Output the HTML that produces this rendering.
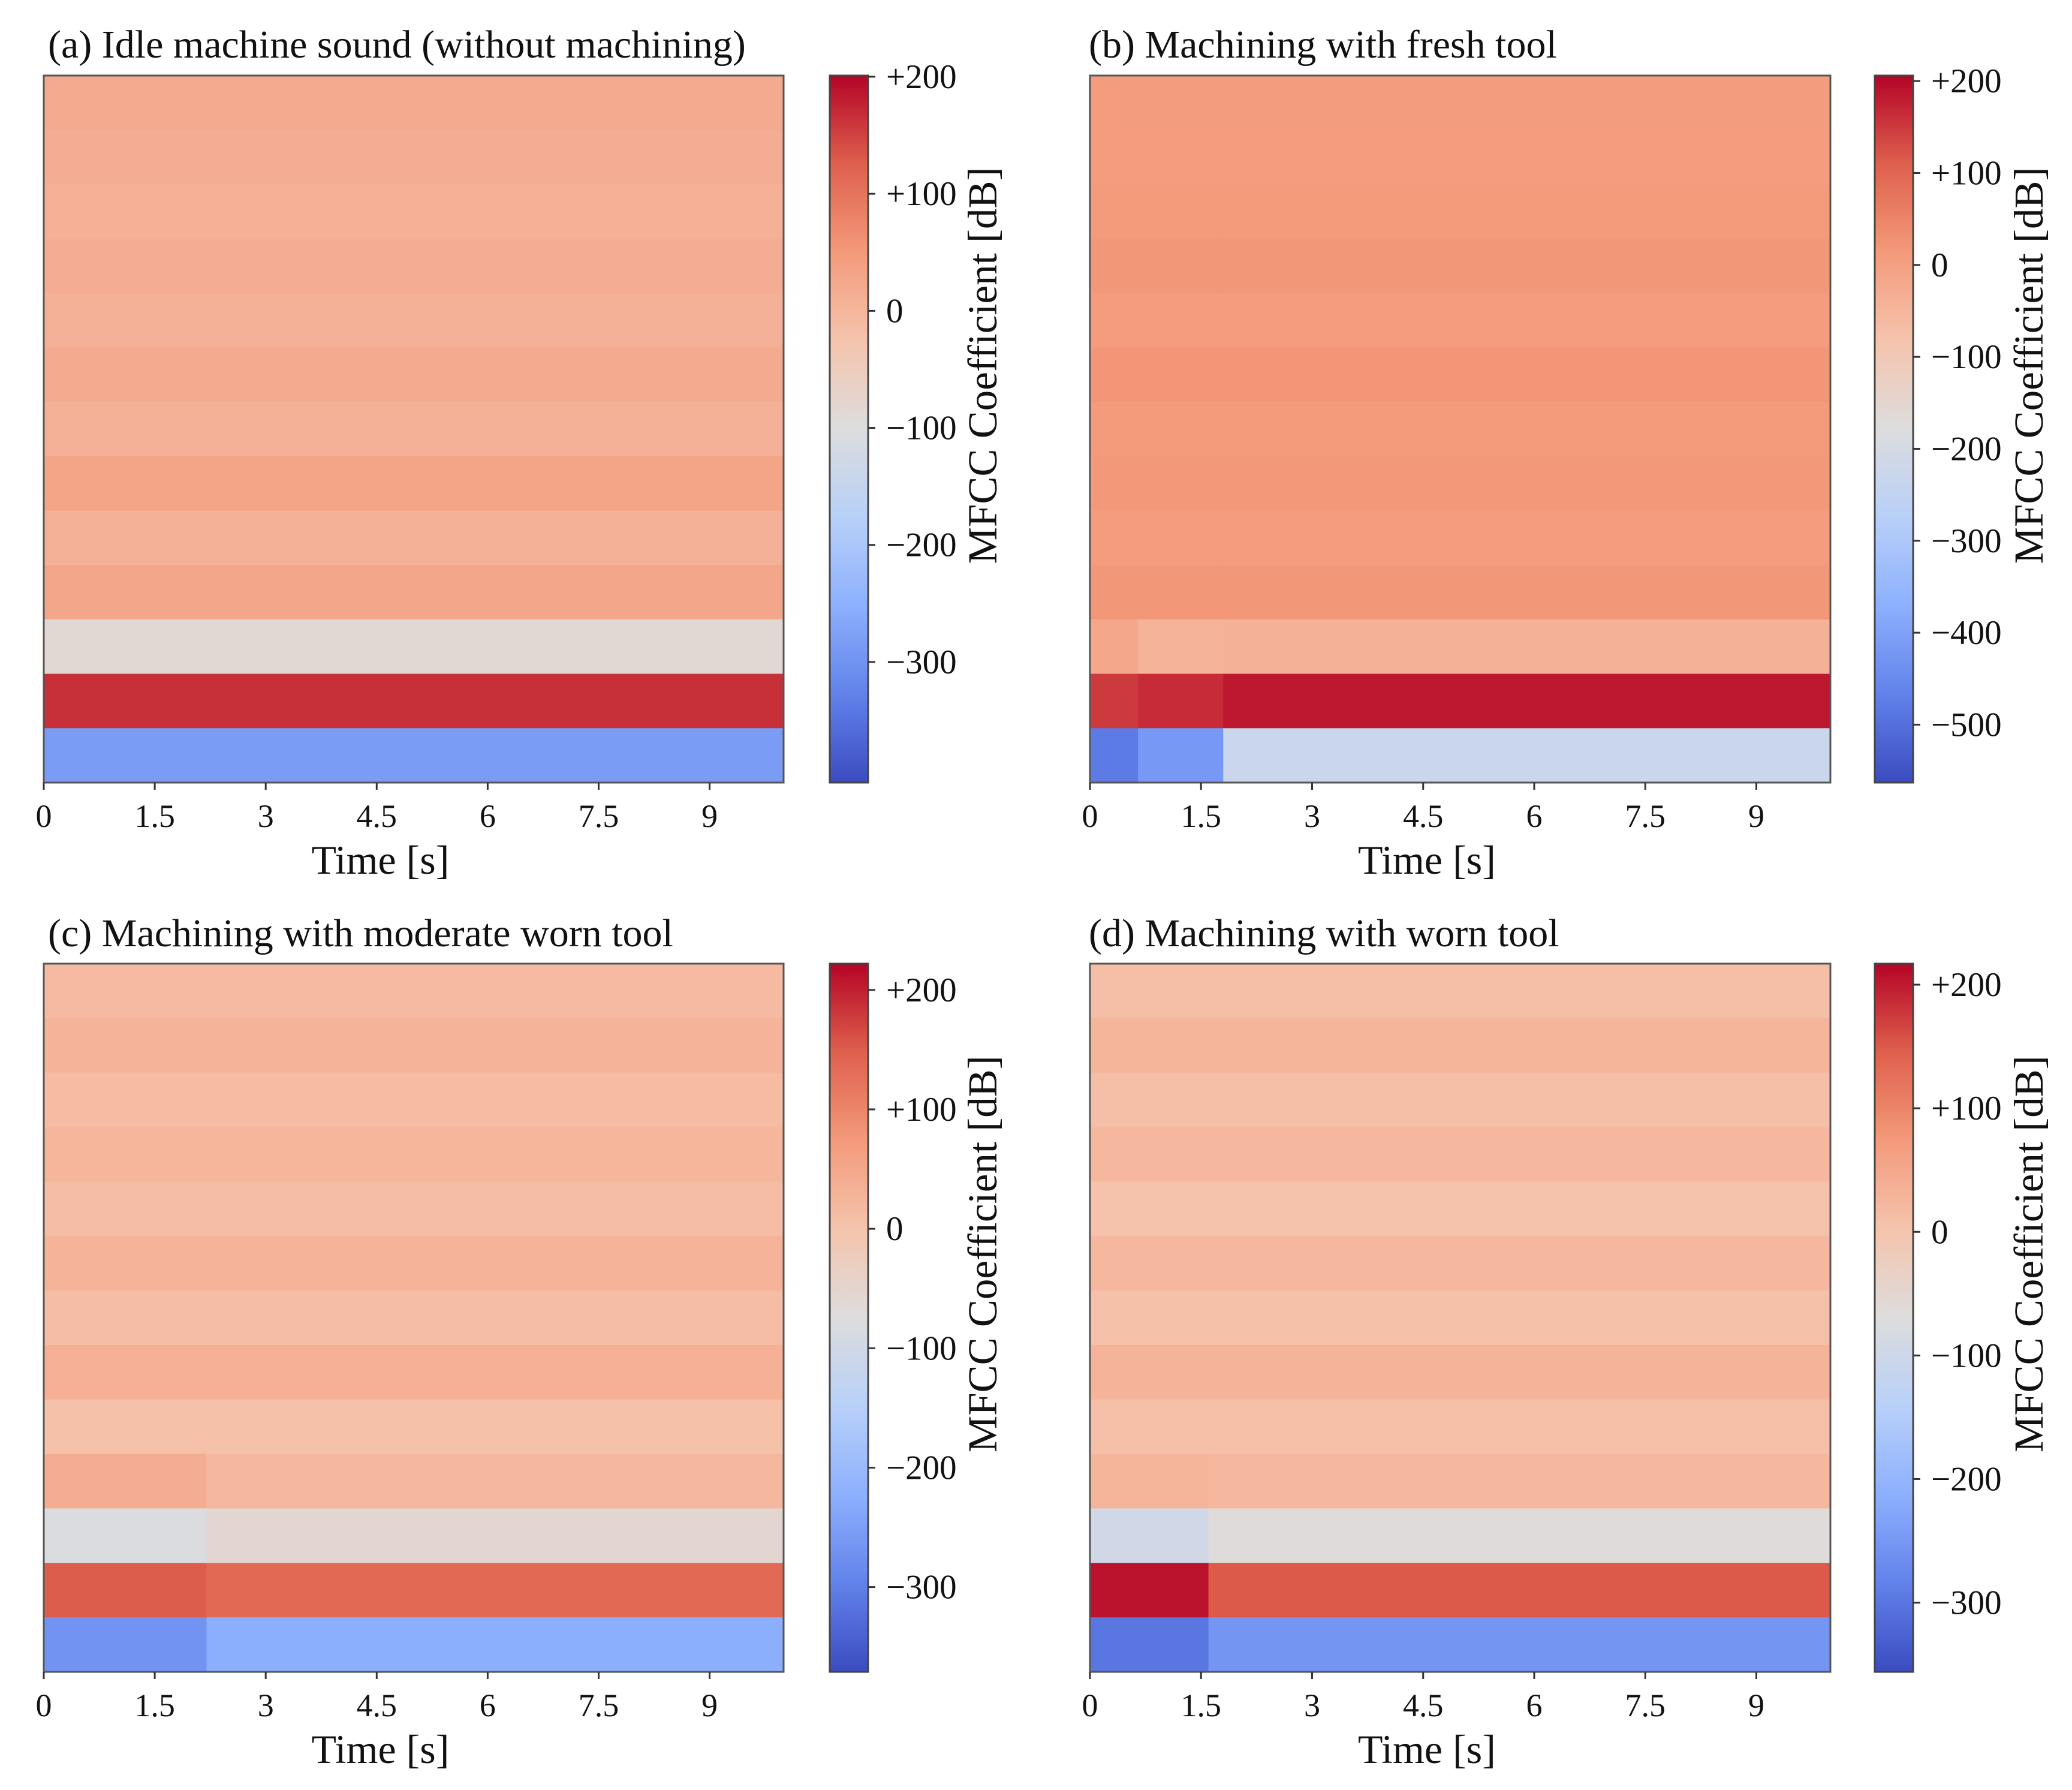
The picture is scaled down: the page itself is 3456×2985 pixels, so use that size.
<!DOCTYPE html>
<html><head><meta charset="utf-8">
<style>
html,body{margin:0;padding:0;background:#fff;}
svg{display:block;font-family:"Liberation Serif",serif;}
</style></head>
<body>
<svg id="fig" width="3456" height="2985" viewBox="0 0 3456 2985" xmlns="http://www.w3.org/2000/svg">
<defs>
<linearGradient id="cw" x1="0" y1="1" x2="0" y2="0">
<stop offset="0" stop-color="rgb(59,76,192)"/>
<stop offset="0.125" stop-color="rgb(98,130,234)"/>
<stop offset="0.25" stop-color="rgb(141,176,254)"/>
<stop offset="0.375" stop-color="rgb(184,208,249)"/>
<stop offset="0.5" stop-color="rgb(221,221,221)"/>
<stop offset="0.625" stop-color="rgb(245,196,173)"/>
<stop offset="0.75" stop-color="rgb(244,154,123)"/>
<stop offset="0.875" stop-color="rgb(222,96,77)"/>
<stop offset="1" stop-color="rgb(180,4,38)"/>
</linearGradient>
</defs>
</svg>
<script>
// ---- data ----
const panelTitles = ["(a) Idle machine sound (without machining)","(b) Machining with fresh tool","(c) Machining with moderate worn tool","(d) Machining with worn tool"];
const xTicks = [0,1.5,3,4.5,6,7.5,9];
const xTickLabels = ["0","1.5","3","4.5","6","7.5","9"];
const timeMax = 10;
const cbRangeA = [-403,201];
const cbRangeB = [-563,206];
const cbRangeC = [-371,222];
const cbRangeD = [-356,217];
const cbTicksA = [200,100,0,-100,-200,-300];
const cbTicksB = [200,100,0,-100,-200,-300,-400,-500];
const cbTicksC = [200,100,0,-100,-200,-300];
const cbTicksD = [200,100,0,-100,-200,-300];
const segA = [0,10];
const segB = [0,0.65,1.8,10];
const segC = [0,2.2,10];
const segD = [0,1.6,10];
// rows top -> bottom (13 MFCC coefficients); each row: values per segment
const valsA = [[22],[15],[10],[15],[8],[22],[8],[30],[8],[28],[-85],[165],[-285]];
const valsB = [[8],[10],[12],[18],[10],[20],[12],[16],[10],[18],[-15,-45,-40],[150,165,185],[-480,-420,-230]];
const valsC = [[18],[28],[15],[25],[12],[30],[12],[35],[5],[40,20],[-80,-55],[150,135],[-270,-225]];
const valsD = [[12],[28],[12],[22],[5],[25],[8],[30],[10],[28,25],[-95,-65],[205,150],[-300,-255]];

const SVGNS="http://www.w3.org/2000/svg";
const svg=document.getElementById('fig');
function mk(tag,attrs,parent){const e=document.createElementNS(SVGNS,tag);for(const k in attrs)e.setAttribute(k,attrs[k]);(parent||svg).appendChild(e);return e;}
const cwStops=[[59,76,192],[98,130,234],[141,176,254],[184,208,249],[221,221,221],[245,196,173],[244,154,123],[222,96,77],[180,4,38]];
function cw(t){t=Math.max(0,Math.min(1,t));const p=t*8,i=Math.min(7,Math.floor(p)),f=p-i;const a=cwStops[i],b=cwStops[i+1];
return 'rgb('+a.map((v,k)=>Math.round(v+(b[k]-v)*f)).join(',')+')';}
const fmt=v=>v>0?'+'+v:(v<0?'\u2212'+(-v):'0');

const panels=[
 {x0:73,x1:1307,y0:126,y1:1305,cbx:1384,tlx:80,tly:96,range:cbRangeA,ticks:cbTicksA,seg:segA,vals:valsA,labX:1662},
 {x0:1818,x1:3053,y0:126,y1:1305,cbx:3127,tlx:1816,tly:96,range:cbRangeB,ticks:cbTicksB,seg:segB,vals:valsB,labX:3407},
 {x0:73,x1:1307,y0:1607,y1:2788,cbx:1384,tlx:80,tly:1578,range:cbRangeC,ticks:cbTicksC,seg:segC,vals:valsC,labX:1662},
 {x0:1818,x1:3053,y0:1607,y1:2788,cbx:3127,tlx:1816,tly:1578,range:cbRangeD,ticks:cbTicksD,seg:segD,vals:valsD,labX:3407}
];
const ids=['a','b','c','d'];
panels.forEach((p,pi)=>{
 const g=mk('g',{});
 
 
 const xs=t=>p.x0+(p.x1-p.x0)*t/timeMax;
 const nRows=p.vals.length, rh=(p.y1-p.y0)/nRows;
 const cbY=v=>p.y1-(p.y1-p.y0)*(v-p.range[0])/(p.range[1]-p.range[0]);
 const norm=v=>(v-p.range[0])/(p.range[1]-p.range[0]);
 const title=mk('text',{x:p.tlx,y:p.tly,'font-size':66,fill:'#111'},g);
 title.textContent=panelTitles[pi];
 
 
 p.vals.forEach((row,ri)=>{
  for(let s=0;s<p.seg.length-1;s++){
   const v=row[Math.min(s,row.length-1)];
   const c=mk('rect',{x:xs(p.seg[s]),y:p.y0+ri*rh,width:xs(p.seg[s+1])-xs(p.seg[s])+0.5,height:rh+0.5,fill:cw(norm(v))},g);
   
   
  }
 });
 const fr=mk('rect',{x:p.x0,y:p.y0,width:p.x1-p.x0,height:p.y1-p.y0,fill:'none',stroke:'#555','stroke-width':3},g);
 
 
 xTicks.forEach((t,i)=>{
  const x=xs(t);
  const tk=mk('line',{x1:x,x2:x,y1:p.y1,y2:p.y1+12,stroke:'#333','stroke-width':3},g);
  
  
  const tl=mk('text',{x:x,y:p.y1+74,'font-size':54,'text-anchor':'middle',fill:'#111'},g);
  tl.textContent=xTickLabels[i];
  
  
 });
 const xt=mk('text',{x:p.x0+(p.x1-p.x0)*0.455,y:p.y1+152,'font-size':68,'text-anchor':'middle',fill:'#111'},g);
 xt.textContent='Time [s]';
 
 
 const cb=mk('rect',{x:p.cbx,y:p.y0,width:64,height:p.y1-p.y0,fill:'url(#cw)',stroke:'#444','stroke-width':3},g);
 
 
 p.ticks.forEach(v=>{
  const y=cbY(v);
  const tk=mk('line',{x1:p.cbx+64,x2:p.cbx+76,y1:y,y2:y,stroke:'#333','stroke-width':3},g);
  
  
  const tl=mk('text',{x:p.cbx+94,y:y+19,'font-size':57,fill:'#111'},g);
  tl.textContent=fmt(v);
  
  
 });
 const cy=p.y0+(p.y1-p.y0)*0.41;
 const lab=mk('text',{x:p.labX,y:cy,'font-size':69,'text-anchor':'middle',fill:'#111',transform:'rotate(-90 '+p.labX+' '+cy+')'},g);
 lab.textContent='MFCC Coefficient [dB]';
 
 
});
</script>
</body></html>
